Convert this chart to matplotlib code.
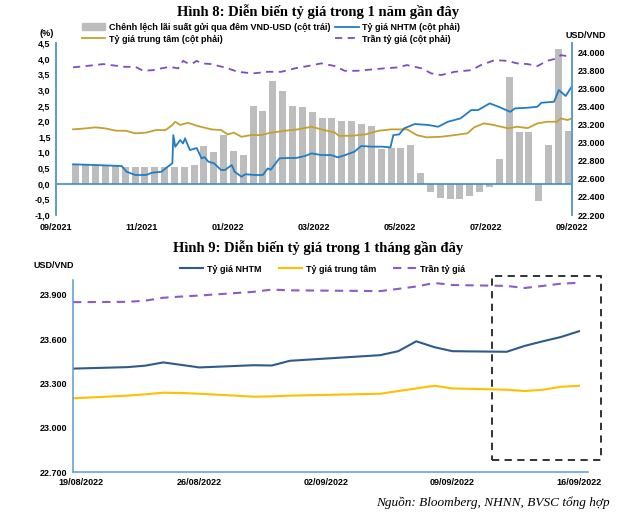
import matplotlib
matplotlib.use("Agg")
import matplotlib.pyplot as plt
import numpy as np
from matplotlib.patches import Rectangle, Patch
from matplotlib.lines import Line2D
from matplotlib.ticker import FuncFormatter
from matplotlib.transforms import ScaledTranslation

plt.rcParams["font.family"] = ["Liberation Sans", "DejaVu Sans"]
plt.rcParams["font.weight"] = "bold"

# ---------------- Hinh 8: data (x = weeks from mid-Sep 2021) ----------------
spread_week = [0, 1.01, 2.02, 3.03, 4.05, 5.06, 6.07, 7.08, 8.09, 9.1,
               10.11, 11.12, 12.14, 13.15, 14.16, 15.17, 16.18, 17.19, 18.2, 19.21,
               20.23, 21.24, 22.25, 23.26, 24.27, 25.28, 26.29, 27.31, 28.32, 29.33,
               30.34, 31.35, 32.36, 33.37, 34.38, 35.4, 36.41, 37.42, 38.43, 39.44,
               40.45, 41.46, 42.47, 43.49, 44.5, 45.51, 46.52, 47.53, 48.54, 49.55, 50.57]
spread = [0.6, 0.6, 0.6, 0.6, 0.6, 0.55, 0.53, 0.53, 0.53, 0.53,
          0.55, 0.55, 0.6, 1.2, 1.03, 1.55, 1.05, 0.93, 2.47, 2.34,
          3.3, 2.95, 2.48, 2.45, 2.3, 2.1, 2.1, 2.0, 2.0, 1.9,
          1.85, 1.1, 1.15, 1.15, 1.25, 0.35, -0.25, -0.45, -0.5, -0.5,
          -0.4, -0.25, -0.1, 0.8, 3.4, 1.65, 1.65, -0.55, 1.25, 4.3, 1.7]

ceil_week = [-0.3, 1, 2.8, 3.8, 5, 6.1, 6.9, 7.9, 8.8, 9.6, 10.5, 11, 11.5, 12, 12.4,
             12.9, 13.9, 15, 15.6, 16.6, 18.2, 19.7, 21.1, 22.5, 23.8, 25.2, 26.6,
             27.6, 28.9, 30.4, 31.7, 33, 34, 35.5, 36.5, 37.5, 38.9, 40.6, 41.6,
             43, 44.3, 45.3, 46.4, 47.4, 48.4, 49.4, 49.8, 50.9]
ceil_rate = [23831, 23845, 23867, 23853, 23837, 23837, 23793, 23800, 23820, 23837,
             23820, 23903, 23875, 23875, 23903, 23875, 23867, 23837, 23820, 23782,
             23764, 23782, 23782, 23820, 23845, 23875, 23845, 23793, 23793, 23808,
             23820, 23830, 23856, 23820, 23764, 23746, 23782, 23800, 23856, 23911,
             23903, 23875, 23867, 23845, 23903, 23930, 23966, 23948]

central_week = [-0.3, 1, 2, 3, 4.1, 5.1, 6.1, 7.2, 8.2, 9.2, 9.9, 10.2, 10.7, 11.5,
                12.5, 13.9, 14.9, 15.6, 16.2, 17, 18, 19, 20, 21.5, 22.8, 24.2,
                25.2, 26.6, 27, 28.3, 29.7, 31.1, 32.4, 34, 35, 36, 37.5, 38.9,
                40.2, 40.9, 41.9, 42.9, 44.4, 45.3, 46.4, 47.4, 48.4, 49.4, 49.8,
                50.5, 50.9]
central_rate = [23146, 23157, 23168, 23157, 23131, 23131, 23102, 23110, 23138, 23138,
                23194, 23230, 23194, 23219, 23183, 23146, 23138, 23090, 23110, 23064,
                23083, 23083, 23109, 23131, 23146, 23175, 23146, 23110, 23075, 23075,
                23090, 23131, 23146, 23146, 23083, 23058, 23064, 23083, 23102, 23168,
                23212, 23194, 23157, 23175, 23160, 23212, 23230, 23230, 23267, 23249,
                23267]

nhtm_week = [-0.3, 2, 4.7, 5.2, 6.1, 7.2, 7.8, 8.8, 9.2, 9.9, 10, 10.2, 10.7, 11,
             11.2, 11.7, 12.4, 12.9, 13.2, 13.6, 14.2, 14.9, 15.3, 16, 16.3, 17,
             17.4, 18.4, 19.2, 19.7, 20, 20.9, 21.8, 22.6, 23.5, 24.2, 25.2, 26.2,
             26.9, 27.6, 28.6, 29.3, 30.4, 31.4, 32.3, 32.6, 33.2, 33.7, 34.8, 36.2,
             37.2, 38.2, 39.5, 40.6, 41.3, 42.5, 43.4, 44.6, 45.1, 46.4, 47.4, 47.8,
             49.1, 49.6, 50.3, 50.9]
nhtm_rate = [22760, 22752, 22741, 22678, 22642, 22642, 22667, 22678, 22715, 22771,
             23083, 22954, 23028, 22990, 23047, 22918, 22940, 22826, 22840, 22789,
             22770, 22697, 22697, 22752, 22678, 22623, 22650, 22642, 22642, 22715,
             22700, 22826, 22830, 22830, 22851, 22881, 22862, 22862, 22837, 22860,
             22899, 22962, 22955, 22955, 22947, 23083, 23090, 23157, 23205, 23194,
             23175, 23230, 23267, 23359, 23359, 23433, 23396, 23340, 23378, 23385,
             23396, 23440, 23451, 23580, 23514, 23616]

top_xlabels = ["09/2021", "11/2021", "01/2022", "03/2022", "05/2022", "07/2022", "09/2022"]

# ---------------- Hinh 9: data (x = calendar days from 19/08/2022) ----------------
m_day = [0, 3, 4, 5, 6, 7, 10, 11, 12, 17, 18, 19, 20, 21, 24, 25, 26, 27, 28]
m_nhtm = [23400, 23410, 23420, 23442, 23425, 23408, 23423, 23421, 23453, 23491,
          23518, 23585, 23545, 23518, 23514, 23554, 23585, 23614, 23653]
m_central = [23199, 23217, 23226, 23237, 23235, 23230, 23210, 23212, 23217, 23230,
             23248, 23266, 23284, 23266, 23257, 23248, 23257, 23277, 23284]
m_ceil = [23850, 23852, 23860, 23880, 23888, 23895, 23920, 23935, 23930, 23925,
          23940, 23956, 23980, 23966, 23960, 23946, 23960, 23975, 23981]
bottom_xticks = [0, 7, 14, 21, 28]
bottom_xlabels = ["19/08/2022", "26/08/2022", "02/09/2022", "09/09/2022", "16/09/2022"]

FS = 6.5
GREY = "#BDBDBD"
BLUE = "#1F7DC6"
GOLD = "#C4A02C"
PURPLE = "#7E4DBE"
AXBLUE = "#5B9BD5"

fig = plt.figure(figsize=(6.4, 5.17), dpi=100)

# ================= top chart =================
ax = fig.add_axes([56 / 640, 1 - 215 / 517, 516 / 640, 172 / 517])
ax.bar(spread_week, spread, width=0.72, color=GREY, zorder=1)
ax.axhline(0, color="#3F8AD0", lw=1.2, zorder=2)
ax.set_ylim(-1, 4.5)
ax.set_yticks(np.arange(-1, 4.51, 0.5))
ax.yaxis.set_major_formatter(FuncFormatter(lambda v, p: f"{v:.1f}".replace(".", ",")))
xl = (-2.05, 50.95)
ax.set_xlim(*xl)
ax.set_xticks(np.linspace(xl[0], xl[1], 7))
ax.set_xticklabels(top_xlabels)

ax2 = ax.twinx()
ax2.plot(central_week, central_rate, color=GOLD, lw=1.3)
ax2.plot(nhtm_week, nhtm_rate, color=BLUE, lw=1.3)
ax2.plot(ceil_week, ceil_rate, color=PURPLE, lw=1.3, dashes=(4, 3))
ax2.set_ylim(22200, 24100)
ax2.set_yticks(np.arange(22200, 24001, 200))
ax2.yaxis.set_major_formatter(FuncFormatter(lambda v, p: f"{int(v):,}".replace(",", ".")))

for a in (ax, ax2):
    for s in ("top", "bottom"):
        a.spines[s].set_visible(False)
    a.spines["left"].set_color(AXBLUE)
    a.spines["right"].set_color(AXBLUE)
    a.spines["left"].set_linewidth(1.2)
    a.spines["right"].set_linewidth(1.2)
    a.tick_params(length=0, labelsize=FS, pad=4)
ax.tick_params(axis="x", pad=6)
ax.set_facecolor("none")
ax.set_zorder(ax2.get_zorder() - 1)
ax2.patch.set_visible(False)

fig.text(318 / 640, 1 - 12 / 517, "Hình 8: Diễn biến tỷ giá trong 1 năm gần đây",
         family="Liberation Serif", weight="bold", fontsize=10.5, ha="center", va="center")
fig.text(47 / 640, 1 - 33 / 517, "(%)", fontsize=FS, ha="center", va="center")
fig.text(586 / 640, 1 - 35 / 517, "USD/VND", fontsize=FS, ha="center", va="center")

handles = [Patch(color=GREY), Line2D([], [], color=GOLD, lw=1.3),
           Line2D([], [], color=BLUE, lw=1.3),
           Line2D([], [], color=PURPLE, lw=1.3, dashes=(4, 3))]
labels = ["Chênh lệch lãi suất gửi qua đêm VND-USD (cột trái)", "Tỷ giá trung tâm (cột phải)",
          "Tỷ giá NHTM (cột phải)", "Trần tỷ giá (cột phải)"]
fig.legend(handles, labels, loc="upper left", bbox_to_anchor=(82 / 640, 1 - 23 / 517),
           ncol=2, frameon=False, fontsize=FS, handlelength=2.6, handleheight=0.8,
           handletextpad=0.4, columnspacing=0.5, labelspacing=0.3, borderpad=0,
           borderaxespad=0)

# ================= bottom chart =================
bx = fig.add_axes([73 / 640, 1 - 472 / 517, 515 / 640, 192 / 517])
bx.plot(m_day, m_nhtm, color="#2F5B8C", lw=1.5, label="Tỷ giá NHTM")
bx.plot(m_day, m_central, color="#FFC000", lw=1.5, label="Tỷ giá trung tâm")
bx.plot(m_day, m_ceil, color="#8C5CC6", lw=1.5, dashes=(4, 3), label="Trần tỷ giá")
bx.set_ylim(22700, 24000)
bx.set_yticks([22700, 23000, 23300, 23600, 23900])
bx.yaxis.set_major_formatter(FuncFormatter(lambda v, p: f"{int(v):,}".replace(",", ".")))
bx.set_xlim(0, 28.5)
bx.set_xticks(bottom_xticks)
bx.set_xticklabels(bottom_xlabels)
for s in ("top", "right"):
    bx.spines[s].set_visible(False)
for s in ("left", "bottom"):
    bx.spines[s].set_color(AXBLUE)
    bx.spines[s].set_linewidth(1.1)
bx.tick_params(length=0, labelsize=FS, pad=4)
first = bx.get_xticklabels()[0]
first.set_transform(first.get_transform() + ScaledTranslation(8 / 100, 0, fig.dpi_scale_trans))

# dashed highlight box around the last week
box_x0, box_x1, box_y0, box_y1 = 23.2, 29.2, 22783, 24025
bx.add_patch(Rectangle((box_x0, box_y0), box_x1 - box_x0, box_y1 - box_y0, fill=False,
                       ec="#222222", lw=1.3, ls=(0, (4, 3)), clip_on=False))

fig.text(318 / 640, 1 - 248 / 517, "Hình 9: Diễn biến tỷ giá trong 1 tháng gần đây",
         family="Liberation Serif", weight="bold", fontsize=10.5, ha="center", va="center")
fig.text(54 / 640, 1 - 265 / 517, "USD/VND", fontsize=FS, ha="center", va="center")
bx.legend(loc="center left", bbox_to_anchor=(180 / 640, 1 - 269 / 517),
          bbox_transform=fig.transFigure, ncol=3, frameon=False, fontsize=FS,
          handlelength=2.6, handletextpad=0.4, columnspacing=1.9, borderpad=0,
          borderaxespad=0)

fig.text(610 / 640, 1 - 503 / 517, "Nguồn: Bloomberg, NHNN, BVSC tổng hợp",
         family="Liberation Serif", style="italic", weight="normal", fontsize=9.5,
         ha="right", va="center")

fig.savefig("out.png", dpi=100)
